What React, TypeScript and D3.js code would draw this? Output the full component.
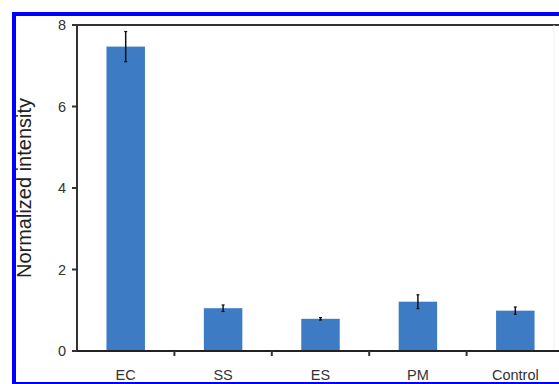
import React from "react";
import * as d3 from "d3";

const categories = ["EC", "SS", "ES", "PM", "Control"];
const values = [7.47, 1.05, 0.79, 1.21, 0.99];
const errors = [0.37, 0.08, 0.03, 0.17, 0.09];
const yTicks = [0, 2, 4, 6, 8];

const W = 559;
const H = 384;
const left = 77;
const right = 564;
const top = 25;
const bottom = 351;

export default function App() {
  const x = d3.scaleBand<string>().domain(categories).range([left, right]).paddingInner(0).paddingOuter(0);
  const y = d3.scaleLinear().domain([0, 8]).range([bottom, top]);
  const barW = x.bandwidth() * 0.395;
  const boundaries = categories.slice(1).map((c) => x(c) as number);
  const font = "Arial, 'Liberation Sans', sans-serif";

  return (
    <svg width={W} height={H} style={{ position: "absolute", left: 0, top: 0, background: "#fff" }}>
      <rect x={0} y={0} width={W} height={H} fill="#fff" />
      {/* bars */}
      {categories.map((c, i) => {
        const cx = (x(c) as number) + x.bandwidth() / 2;
        return (
          <g key={c}>
            <rect x={cx - barW / 2} y={y(values[i])} width={barW} height={y(0) - y(values[i])} fill="#3d7bc5" />
            <line x1={cx} x2={cx} y1={y(values[i] + errors[i])} y2={y(values[i] - errors[i])} stroke="#111" strokeWidth={1.5} />
            <line x1={cx - 1.5} x2={cx + 1.5} y1={y(values[i] + errors[i])} y2={y(values[i] + errors[i])} stroke="#111" strokeWidth={1.2} />
            <line x1={cx - 1.5} x2={cx + 1.5} y1={y(values[i] - errors[i])} y2={y(values[i] - errors[i])} stroke="#111" strokeWidth={1.2} />
          </g>
        );
      })}
      {/* plot frame */}
      <line x1={left} x2={W} y1={top} y2={top} stroke="#333" strokeWidth={2} />
      <line x1={554} x2={554} y1={top} y2={bottom} stroke="#f0f0f0" strokeWidth={1} />
      <line x1={left} x2={left} y1={top - 1} y2={bottom + 1} stroke="#333" strokeWidth={2} />
      <line x1={left} x2={W} y1={bottom} y2={bottom} stroke="#222" strokeWidth={2} />
      {/* y ticks */}
      {yTicks.map((t) => (
        <g key={t}>
          <line x1={left - 5} x2={left} y1={y(t)} y2={y(t)} stroke="#333" strokeWidth={2} />
          <text x={left - 11} y={y(t)} dy="0.35em" textAnchor="end" fontFamily={font} fontSize={14.5} fill="#333">
            {t}
          </text>
        </g>
      ))}
      {/* x ticks */}
      {boundaries.map((b, i) => (
        <line key={i} x1={b} x2={b} y1={bottom} y2={bottom + 5} stroke="#333" strokeWidth={2} />
      ))}
      {categories.map((c) => (
        <text key={c} x={(x(c) as number) + x.bandwidth() / 2} y={380} textAnchor="middle" fontFamily={font} fontSize={14.5} fill="#333">
          {c}
        </text>
      ))}
      <text transform={`translate(31,188) rotate(-90)`} textAnchor="middle" fontFamily={font} fontSize={20} fill="#222">
        Normalized intensity
      </text>
      {/* outer blue frame */}
      <rect x={14} y={14} width={W + 10} height={370} fill="none" stroke="#0000ff" strokeWidth={4} />
    </svg>
  );
}
